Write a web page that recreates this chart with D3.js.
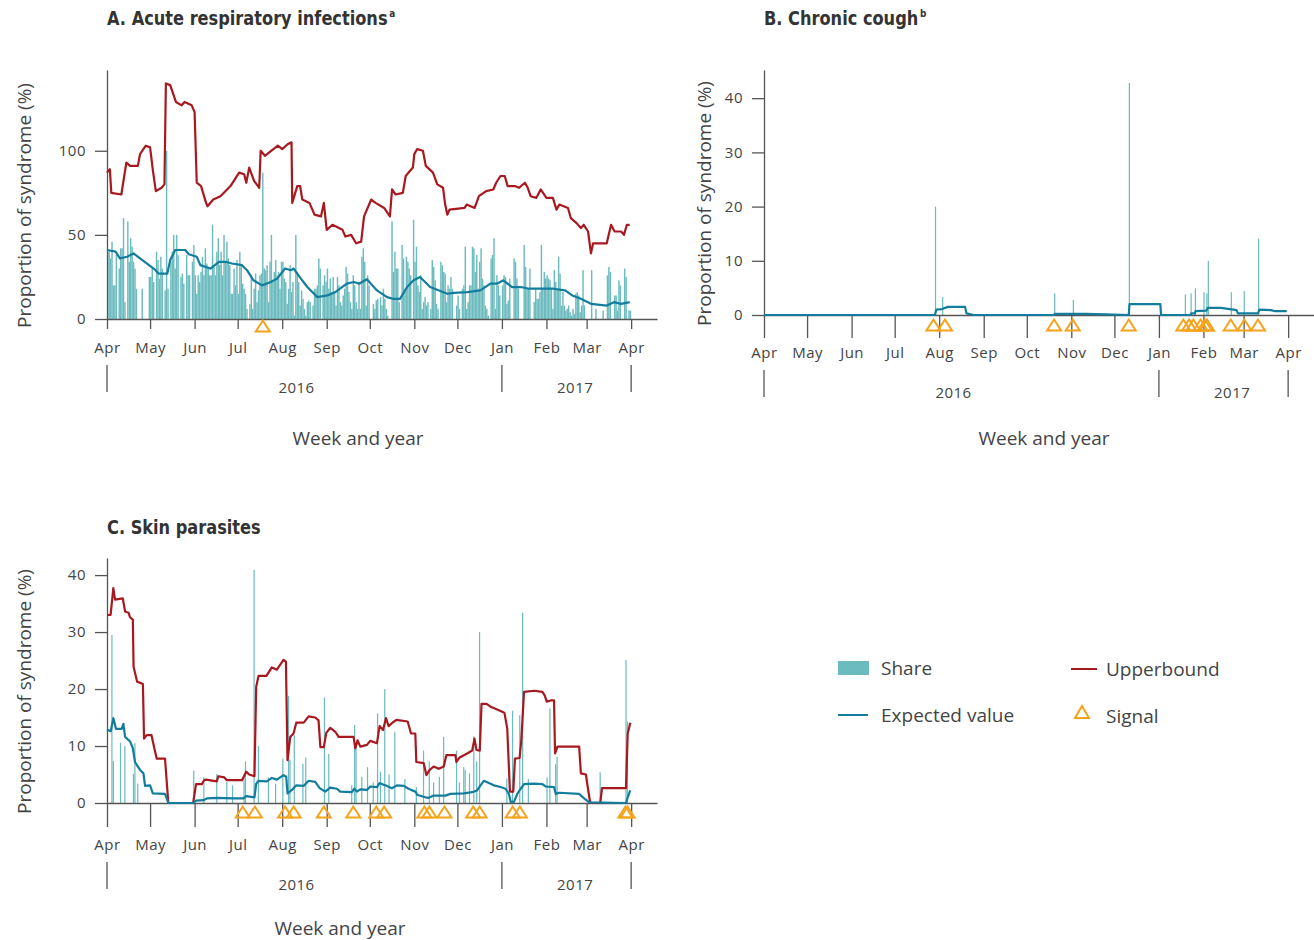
<!DOCTYPE html>
<html>
<head>
<meta charset="utf-8">
<title>Syndromic surveillance</title>
<script src="https://cdn.jsdelivr.net/npm/d3@7"></script>
<style>
  body { margin: 0; background: #fff; }
  text { font-family: "Open Sans", sans-serif; fill: #444; }
  .ttl { font-family: "Liberation Sans Narrow", "DejaVu Sans Condensed", "Roboto", sans-serif; font-weight: bold; font-size: 20px; fill: #333; }
  .axis path, .axis line { stroke: #555; stroke-width: 1.3; }
  .axis text { font-size: 15px; fill: #444; font-family: "Open Sans", sans-serif; }
</style>
</head>
<body>
<script>
// data: days counted from 1 April 2016
var monthNames = ["Apr","May","Jun","Jul","Aug","Sep","Oct","Nov","Dec","Jan","Feb","Mar","Apr"];
var yearLabels = ["2016", "2017"];
var yearLabelDates = ["2016-08-11", "2017-02-21"];
var yearBreaks = ["2016-04-01", "2017-01-01", "2017-04-01"];

// A. Acute respiratory infections, daily share (%)
var shareA = [
  40,40,36,46,20,20,38,0,30,42,42,60,10,0,58,34,48,43,34,30,18,0,0,0,18,0,0,0,0,25,
  25,30,22,0,40,35,24,37,30,0,17,100,18,0,34,40,50,30,50,38,0,25,27,21,0,38,26,26,0,34,44,
  26,15,26,22,28,37,26,42,33,30,26,26,56,31,26,40,48,32,40,26,50,34,46,36,32,15,15,30,20,35,
  15,40,32,21,18,15,6,0,9,26,6,18,27,10,17,26,27,87,30,29,32,10,34,50,22,28,35,26,28,18,34,
  34,24,22,9,18,32,16,22,2,50,28,22,8,17,12,6,2,10,11,10,0,8,18,18,20,36,30,0,20,26,22,
  30,18,24,16,25,16,8,25,20,10,8,14,18,31,27,16,10,6,26,20,10,6,22,6,37,42,34,8,26,20,
  0,0,9,6,11,12,0,13,8,18,12,6,2,0,0,58,28,40,30,30,10,0,44,36,18,37,34,30,26,0,59,
  34,43,20,16,26,6,10,13,8,10,0,6,35,31,23,9,6,0,34,32,28,27,10,20,18,25,18,0,0,8,
  14,6,0,18,20,43,6,10,20,20,43,42,28,38,18,34,42,24,20,8,6,2,0,36,38,48,6,26,20,14,0,
  20,26,25,9,11,24,0,0,36,34,24,18,0,0,0,44,31,18,18,30,0,0,10,18,12,12,16,44,18,28,24,
  26,24,23,18,6,29,22,18,37,27,8,16,8,5,6,8,4,2,6,3,15,16,14,4,8,29,8,0,
  0,0,0,29,0,0,6,0,0,0,0,5,0,0,26,31,28,0,0,14,14,5,23,20,0,0,30,25,0,5,5
];
var upperA = [[0,87],[2,89],[3,75],[10,74],[12,85],[13.5,93],[16,91],[21.5,91],[23,98],[27,103],[30,102],[32,88],[34,76],[38,78],[40,80],[41,140],[44,139],[48,129],[52,127],[54,129],[59,127],[61,123],[62.5,81],[65.5,79],[69,69],[70,67],[74,71],[79,73],[86,79],[92,87],[95.5,86],[97,81],[99,90],[102.5,82],[106,78],[107,100],[110,97],[113,99],[119,103],[122,101],[126,104],[128.5,105],[129,69],[132.5,79],[134.5,79],[136,71],[141,69],[144.5,62],[149,61],[151,69],[153,53],[157,56],[164,53],[166,49],[170,50],[173.5,45],[177,46],[179,61],[184,71],[187,69],[193,66],[197,61],[198.5,77],[201,74],[206,75],[208,85],[213,90],[214,98],[216,101],[220,100],[222,91],[227,87],[230,80],[234,78],[235.5,68],[237,62],[238.5,65],[249,66],[250.5,68],[256,66],[259,73],[264,76],[269,77],[271,81],[274,85],[277,85],[279,79],[284,79],[287,78],[291,81],[293,78],[295,73],[299,72],[302,77],[306,72],[310.5,72],[313,65],[315,68],[321,66],[323,60],[327,57],[330,54],[332,56],[335,52],[337,39],[338.5,45],[348,45],[351,56],[353.5,52],[358,52],[360,50],[362,56],[364,56]];
var expectedA = [[0,41],[6,40],[9,36],[14,37],[18.5,39],[23,36],[32.5,30],[36,27],[42,27],[44,35],[47.5,41],[54.5,41],[57,38.5],[62.5,37],[65,32],[72,30],[78,34],[82.5,34],[87,33],[94,32],[97.5,29],[102,23],[108,20],[114,22],[118.5,24],[124,30],[128,29],[130,30],[135,24],[139.5,19],[146.5,13],[153.5,14],[159,16],[167,21],[172,22],[175.5,21],[181,23.6],[188,17],[195,13],[199,12],[204,12],[209,19],[213.5,23],[218,25],[221.5,22],[225,19],[237,15],[241.5,15.5],[251,16],[260,17],[267,21],[271.5,21],[276,23],[282,19],[288,19],[294,18],[302,18],[311,18],[319,17],[324,14],[330,12],[337,9],[348,8],[353,10],[358,9],[364,10]];
var signalA = [108.5];

// B. Chronic cough
var shareB = [[119,20],[124,3.3],[202,4],[215,2.8],[254,42.8],[293,3.8],[297,4],[300,4.9],[306,4.2],[308,4],[309,10],[325,4.2],[334,4.4],[344,14.1]];
var expectedB = [[0,0],[119,0],[120,1],[124,1.1],[128,1.5],[140,1.5],[141,0.3],[146,0],[202,0],[202.5,0.2],[224,0.2],[238,0.1],[254,0],[254.5,2],[276,2],[276.5,0],[297,0],[297.5,0.3],[300,0.3],[300.5,0.7],[308,0.8],[309,1.3],[318,1.3],[327,1.0],[329,0.9],[330,0.3],[344,0.3],[345,1.0],[353,0.9],[356,0.7],[364,0.7]];
var signalB = [118,126,202,215,254,292,296,299,304,307,308.5,325,334.5,344];

// C. Skin parasites
var shareC = [[3,29.5],[4,7.4],[9,10.6],[12,10],[18,5.1],[19,10.5],[21,3.4],[60,5.7],[67,4.5],[76,5.1],[83,3.7],[87,3.1],[95,4.6],[96,7.3],[102,40.9],[105,10],[112,4.5],[117,3.4],[122,7.8],[126,18.8],[127,7.6],[130,11.9],[136,6.9],[138,8],[151,18.5],[154,8.6],[170,3.1],[172,13.7],[173,10.5],[177,4.6],[181,6.3],[185,3.6],[188,15.7],[190,5.5],[193,20],[196,5],[200,12.5],[207,4.2],[215,2.8],[220,9.2],[224,7.3],[227,3.6],[231,4.6],[234,11.6],[243,9.2],[245,3.6],[248,6.3],[249,5.8],[252,5.2],[255,11.7],[257,7.3],[259,30],[278,4.3],[282,16.2],[287,15.4],[289,33.4],[293,4.2],[306,4.5],[308,16.6],[312,6.8],[313,8.1],[343,5.4],[361,25.1],[362,14.3]];
var upperC = [[0,33],[2.5,33],[4.4,37.7],[5.6,35.7],[11,35.9],[12.6,33.6],[15,33.4],[16,32.6],[18,32.2],[18.5,23.9],[21,21.3],[25,20.9],[25.8,11.3],[27.6,11.9],[31,11.9],[32.7,9.9],[34.6,7.8],[40.4,7.8],[42.7,0],[60,0],[62,3.3],[66,3.3],[67.6,4],[69,4.1],[76.4,3.8],[77.6,4.7],[81.6,4.5],[83.4,4],[94,4],[96.9,5.5],[99,5],[102.7,4.7],[103.9,20.4],[105.5,22.3],[111,22.3],[114.8,23.8],[118.3,23.4],[122.9,25.1],[124.6,24.8],[125.7,7.5],[127.6,11.6],[129.9,12.2],[131.8,14.1],[137,14.1],[140.4,15.2],[145,15],[147.3,14.5],[148.6,9.8],[151,9.8],[152.7,12.3],[155.5,13.2],[159,12.5],[161.3,11.6],[171.7,11.6],[172.9,9.6],[174.5,11],[176.4,9.9],[181,10.2],[183.3,10.9],[188,10.5],[189.8,13.5],[192.2,12.8],[194.3,14.9],[196.1,13.5],[198.4,14],[201.5,14.6],[209.4,14.3],[211.7,12.2],[214.7,12.2],[215.4,7.2],[220.5,7],[222.4,4.9],[224.7,5.8],[227.5,6.4],[231,6],[234.5,6.4],[236.3,8.4],[242.6,8.4],[243.3,7.2],[245.6,8],[250.8,8.7],[254.3,9.2],[255.9,11.3],[257.3,9.3],[259.6,9.2],[260.8,17.4],[264.3,17.4],[267.1,16.9],[271.7,16.4],[275.2,16],[276.8,15.8],[278.7,13.1],[280.6,2],[282.9,2],[284.1,7.8],[287.3,7.9],[288.5,11],[290.4,19.5],[297.4,19.7],[303.2,19.5],[304.8,18.9],[306.2,17.8],[309,18],[311.3,18],[312,8.7],[313.7,9.9],[328.8,9.9],[330,5.2],[333.5,5],[334.7,2.9],[336.5,0],[343.5,0],[344.7,2.6],[361.4,2.6],[362.6,12.2],[364.4,14.1]];
var expectedC = [[0,12.9],[2.6,12.6],[4.4,14.9],[6.3,13],[10.2,13],[11.4,13.9],[12.6,11.6],[16.1,10.8],[18,9.6],[19.5,7.2],[23,5.8],[25.4,5.2],[26.5,3],[30,3.1],[31.9,1.7],[40.4,1.6],[42.7,0],[60.1,0],[62,0.4],[67.2,0.5],[69.5,0.8],[76.4,0.9],[88,0.8],[95,0.8],[96.9,1.2],[102.7,1],[103.9,3.4],[105.5,3.9],[111.3,3.8],[114.8,4.4],[118.3,4.1],[122.9,4.9],[124.8,4.6],[125.7,1.7],[128.8,2.3],[131.8,3.1],[136.9,3],[140.4,3.9],[145,3.7],[148.1,2.6],[151.9,2],[155.4,2.7],[160.1,2.5],[162.4,2],[170.5,1.9],[172.2,2.5],[174,2],[176.4,2.4],[181,2.3],[183.3,2.9],[188,2.8],[189.8,3.5],[192.6,3.2],[194.9,3],[198.4,2.6],[201.9,3.1],[206.6,3],[209.4,2.6],[211.7,2.3],[214.7,2],[216.3,1.4],[221.7,1],[224,0.9],[227.5,1.3],[235.6,1.3],[239.1,1.6],[248.4,1.7],[254.3,1.9],[257.7,2.2],[260.1,3.1],[262.4,3.9],[265.9,3.5],[269.4,3.1],[274.1,2.8],[277.5,2.5],[279.9,1.6],[281.1,0.2],[283.4,0.2],[285.7,1.6],[288.1,2.5],[290.4,3.3],[297.4,3.4],[303.2,3.3],[305.5,2.9],[311.3,2.8],[312.5,1.6],[314.8,1.8],[328.8,1.6],[332.3,0.8],[335.8,0.1],[361.4,0],[362.6,1],[364.4,2.2]];
var signalC = [94.5,103,124,130,151,171.5,187.5,193,221,224.5,235,255,259.5,282.5,287.5,361,362.5];

var legendItems = ["Share", "Expected value", "Upperbound", "Signal"];

var col = { share: "#6cbbbf", expected: "#137d9e", upper: "#a8191f", signal: "#f5a31a" };

var w = 1314, h = 940;
var svg = d3.select("body").append("svg").attr("width", w).attr("height", h);

var t0 = new Date(Date.UTC(2016, 3, 1));
var t1 = new Date(Date.UTC(2017, 3, 19));
function dayDate(d) { return new Date(t0.getTime() + d * 864e5); }
function isoDate(s) { return new Date(s + "T00:00:00Z"); }

var panels = [
  { title: "A. Acute respiratory infections", sup: "a", x0: 107, y0: 319, ytop: 70, ymax: 148, yticks: [0,50,100],
    bars: shareA.map(function(v, i){ return [i, v]; }), barW: 1.0, upper: upperA, expected: expectedA, signal: signalA,
    tick: 10, pad: 13, sigOff: 7, yearTop: 365, yearLab: 393, xTitle: 358, xTitleY: 445, yTitleX: 31, titleY: 25 },
  { title: "B. Chronic cough", sup: "b", x0: 764, y0: 315, ytop: 70, ymax: 45.2, yticks: [0,10,20,30,40],
    bars: shareB, barW: 0.85, upper: null, expected: expectedB, signal: signalB,
    tick: 23, pad: 9.5, sigOff: 10, yearTop: 370, yearLab: 398, xTitle: 1044, xTitleY: 445, yTitleX: 711, titleY: 25 },
  { title: "C. Skin parasites", sup: "", x0: 107, y0: 803, ytop: 558, ymax: 43, yticks: [0,10,20,30,40],
    bars: shareC, barW: 0.85, upper: upperC, expected: expectedC, signal: signalC,
    tick: 24, pad: 12.5, sigOff: 9, yearTop: 862, yearLab: 890, xTitle: 340, xTitleY: 935, yTitleX: 31, titleY: 534 }
];

panels.forEach(function(p) {
  var x = d3.scaleUtc().domain([t0, t1]).range([p.x0, p.x0 + 550]);
  var y = d3.scaleLinear().domain([0, p.ymax]).range([p.y0, p.ytop]);
  var dw = x(dayDate(1)) - x(dayDate(0));
  var g = svg.append("g");

  // bars
  g.selectAll("rect.bar")
    .data(p.bars.filter(function(d){ return d[1] > 0; }))
    .enter()
    .append("rect")
    .attr("x", function(d){ return x(dayDate(d[0])); })
    .attr("y", function(d){ return y(d[1]); })
    .attr("width", dw * p.barW)
    .attr("height", function(d){ return y(0) - y(d[1]); })
    .attr("fill", col.share);

  // x axis
  g.append("g")
    .attr("class", "axis")
    .attr("transform", "translate(0," + p.y0 + ")")
    .call(d3.axisBottom(x).ticks(d3.utcMonth.every(1))
      .tickFormat(function(d, i){ return monthNames[i]; })
      .tickSize(p.tick).tickSizeOuter(0).tickPadding(p.pad));

  // y axis
  g.append("g")
    .attr("class", "axis")
    .attr("transform", "translate(" + p.x0 + ",0)")
    .call(d3.axisLeft(y).tickValues(p.yticks).tickSize(12).tickSizeOuter(0).tickPadding(9));

  g.selectAll(".axis text").attr("letter-spacing", "0.5px");

  // year row
  g.selectAll("line.year")
    .data(yearBreaks)
    .enter()
    .append("line")
    .attr("x1", function(d){ return x(isoDate(d)); })
    .attr("x2", function(d){ return x(isoDate(d)); })
    .attr("y1", p.yearTop)
    .attr("y2", p.yearTop + 27)
    .attr("stroke", "#555")
    .attr("stroke-width", 1.3);
  g.selectAll("text.year")
    .data(yearLabels)
    .enter()
    .append("text")
    .text(function(d){ return d; })
    .attr("x", function(d, i){ return x(isoDate(yearLabelDates[i])); })
    .attr("y", p.yearLab)
    .attr("text-anchor", "middle")
    .attr("font-size", "15px")
    .attr("letter-spacing", "0.5px");

  // lines
  var line = d3.line()
    .x(function(d){ return x(dayDate(d[0])); })
    .y(function(d){ return y(d[1]); });
  if (p.upper) {
    g.append("path").datum(p.upper).attr("d", line)
      .attr("fill", "none").attr("stroke", col.upper).attr("stroke-width", 2.2).attr("stroke-linejoin", "round");
  }
  g.append("path").datum(p.expected).attr("d", line)
    .attr("fill", "none").attr("stroke", col.expected).attr("stroke-width", 2.2).attr("stroke-linejoin", "round");

  // signals
  g.selectAll("path.sig")
    .data(p.signal)
    .enter()
    .append("path")
    .attr("d", "M0,-5.5L7,5.5L-7,5.5Z")
    .attr("transform", function(d){ return "translate(" + x(dayDate(d)) + "," + (p.y0 + p.sigOff) + ")"; })
    .attr("fill", "none")
    .attr("stroke", col.signal)
    .attr("stroke-width", 2);

  // titles (one text element, squeezed horizontally like a condensed face)
  var tt = g.append("text").attr("class", "ttl")
    .attr("transform", "translate(" + p.x0 + "," + p.titleY + ") scale(0.9,1)");
  tt.append("tspan").text(p.title);
  if (p.sup) tt.append("tspan").attr("dx", 2).attr("dy", -8).style("font-size", "11px").text(p.sup);

  g.append("text")
    .text("Week and year")
    .attr("x", p.xTitle).attr("y", p.xTitleY)
    .attr("text-anchor", "middle").attr("font-size", "19px");

  var ym = (p.y0 + p.ytop) / 2 + 11;
  g.append("text")
    .text("Proportion of syndrome (%)")
    .attr("transform", "translate(" + p.yTitleX + "," + ym + ") rotate(-90)")
    .attr("text-anchor", "middle").attr("font-size", "19px");
});

// legend
var lg = svg.append("g");
lg.append("rect").attr("x", 838).attr("y", 661).attr("width", 31).attr("height", 14).attr("fill", col.share);
lg.append("line").attr("x1", 838).attr("x2", 868).attr("y1", 715).attr("y2", 715).attr("stroke", col.expected).attr("stroke-width", 2);
lg.append("line").attr("x1", 1071).attr("x2", 1097).attr("y1", 669).attr("y2", 669).attr("stroke", col.upper).attr("stroke-width", 2);
lg.append("path").attr("d", "M0,-6L7,6L-7,6Z").attr("transform", "translate(1082,712)")
  .attr("fill", "none").attr("stroke", col.signal).attr("stroke-width", 2);
var lpos = [[881, 675], [881, 722], [1106, 676], [1106, 723]];
lg.selectAll("text")
  .data(legendItems)
  .enter()
  .append("text")
  .text(function(d){ return d; })
  .attr("x", function(d, i){ return lpos[i][0]; })
  .attr("y", function(d, i){ return lpos[i][1]; })
  .attr("font-size", "19px");
</script>
</body>
</html>
